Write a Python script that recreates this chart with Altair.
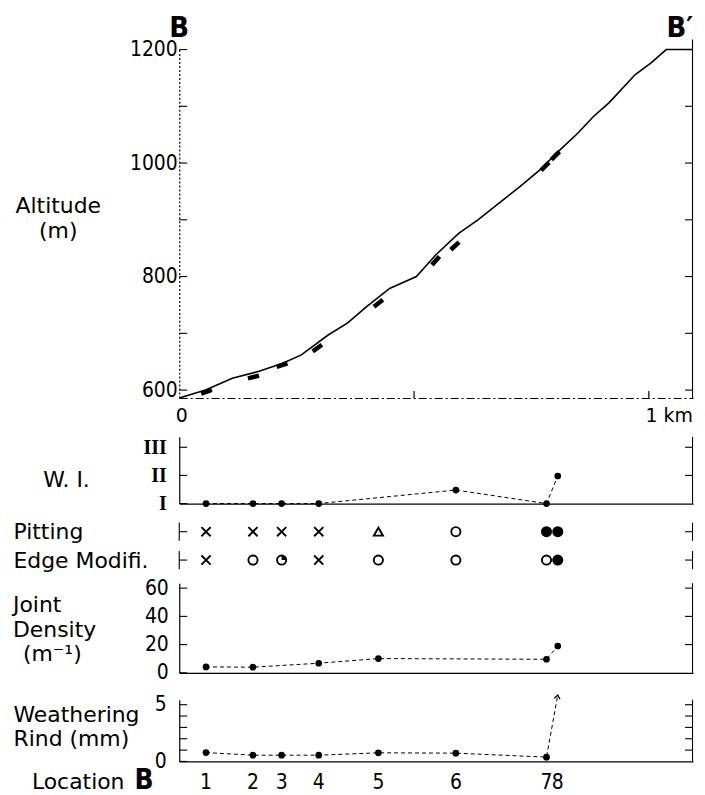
import altair as alt
import pandas as pd

# ---------------- data ----------------
profile_km = [0.000, 0.056, 0.113, 0.170, 0.219, 0.260, 0.317, 0.358, 0.399, 0.448, 0.505,
              0.546, 0.595, 0.636, 0.685, 0.726, 0.768, 0.808, 0.849, 0.882, 0.915, 0.971,
              1.004, 1.037, 1.094]
profile_alt = [586, 600, 621, 633, 647, 662, 697, 718, 747, 779, 800,
               838, 876, 900, 932, 959, 988, 1021, 1053, 1082, 1106, 1156,
               1176, 1200, 1200]

sample_km = [0.058, 0.158, 0.219, 0.294, 0.424, 0.546, 0.587, 0.779, 0.801]
sample_alt = [597, 623, 644, 674, 753, 828, 854, 994, 1013]
sample_angle = [340, 346, 341, 324, 322, 312, 317, 315, 315]

alt_major = [600, 800, 1000, 1200]
alt_minor = [600, 700, 800, 900, 1000, 1100, 1200]
km_labels = [0, 1]
km_ticks = [0.5, 1.0]

loc_names = ["1", "2", "3", "4", "5", "6", "7", "8"]
loc_km = [0.057, 0.157, 0.218, 0.297, 0.424, 0.589, 0.782, 0.806]

wi_index = [1.0, 1.0, 1.0, 1.0, None, 1.48, 1.0, 1.98]
wi_levels = [1, 2, 3]

pitting = ["x", "x", "x", "x", "tri", "open", "filled", "filled"]
edge = ["x", "open", "quarter", "x", "open", "open", "open", "filled"]
row_names = ["Pitting", "Edge Modifi."]
row_pos = [1.5, 0.5]

joint_density = [4.2, 4.0, None, 6.8, 10.1, None, 9.6, 19.0]
jd_ticks = [0, 20, 40, 60]

rind = [0.78, 0.55, 0.55, 0.55, 0.76, 0.73, 0.38, None]
rind_loc8_arrow = 5.85
rind_ticks = [0, 1, 2, 3, 4, 5]
rind_labels = [0, 5]

# ---------------- styling ----------------
SANS = "DejaVu Sans"
COND = "DejaVu Sans Condensed, DejaVu Sans"
SERIF = "Liberation Serif"
FS = 22
W = 516
H1, H2, H3, H4, H5 = 350, 67, 57, 90, 62
TL = 8  # inward tick length

xs = alt.Scale(domain=[0, 1.094], nice=False, zero=False)
ys1 = alt.Scale(domain=[586, 1200], nice=False, zero=False)
ys2 = alt.Scale(domain=[1, 3.37], nice=False, zero=False)
ys3 = alt.Scale(domain=[0, 2], nice=False, zero=False)
ys4 = alt.Scale(domain=[0, 63.5], nice=False, zero=False)
ys5 = alt.Scale(domain=[0, 5.44], nice=False, zero=False)

one = pd.DataFrame({"k": [0]})

plain_x = alt.Axis(labels=False, ticks=False, title=None, grid=False,
                   domainColor="black", domainWidth=1.2)

ax1_x = alt.Axis(
    values=km_labels, labelExpr="datum.value == 0 ? '0' : '1 km'",
    labelAlign="left", labelOffset=-4, labelPadding=9, ticks=False, tickSize=0,
    domainDash=[8, 3, 2, 3], domainColor="black", domainWidth=1.2,
    labelFont=SANS, labelFontSize=19, title=None, grid=False, labelFlush=False)
ax1_y = alt.Axis(
    values=alt_major, format="d", ticks=False, tickSize=0, labelPadding=2,
    domainDash=[2, 2], domainColor="black", domainWidth=1.2,
    labelFont=COND, labelFontSize=21, grid=False,
    title=["Altitude", "(m)"], titleAngle=0, titleAlign="center",
    titleBaseline="alphabetic", titleX=-122, titleY=164,
    titleFont=SANS, titleFontSize=FS, titleFontWeight="normal",
    titleLineHeight=25)
ax2_y = alt.Axis(
    values=wi_levels,
    labelExpr="datum.value == 1 ? 'I' : datum.value == 2 ? 'II' : 'III'",
    ticks=False, tickSize=0, labelPadding=13, domainColor="black", domainWidth=1.2,
    labelFont=SERIF, labelFontSize=20, labelFontWeight="bold", grid=False,
    title="W. I.", titleAngle=0, titleAlign="left", titleBaseline="alphabetic",
    titleX=-137, titleY=50, titleFont=SANS, titleFontSize=FS,
    titleFontWeight="normal")
ax3_y = alt.Axis(
    values=row_pos, labelExpr="datum.value > 1 ? 'Pitting' : 'Edge Modifi.'",
    labelAlign="left", labelBaseline="middle", labelPadding=167, ticks=False,
    tickSize=0, domain=False, labelFont=SANS, labelFontSize=FS, grid=False,
    title=None)
ax4_y = alt.Axis(
    values=jd_ticks, format="d", ticks=False, tickSize=0, labelPadding=11,
    domainColor="black", domainWidth=1.2, labelFont=COND, labelFontSize=21,
    grid=False, title=None)
ax5_y = alt.Axis(
    values=rind_labels, format="d", ticks=False, tickSize=0, labelPadding=13,
    domainColor="black", domainWidth=1.2, labelFont=COND, labelFontSize=21,
    grid=False, title=["Weathering", "Rind (mm)"], titleAngle=0,
    titleAlign="left", titleBaseline="alphabetic", titleX=-167, titleY=22,
    titleFont=SANS, titleFontSize=FS, titleFontWeight="normal",
    titleLineHeight=24)


def side_ticks(values, scale, axis, side):
    df = pd.DataFrame({"v": values})
    x0, x1 = (0, TL) if side == "left" else (W - TL, W)
    return alt.Chart(df).mark_rule(color="black", strokeWidth=1.1).encode(
        y=alt.Y("v:Q", scale=scale, axis=axis), x=alt.value(x0), x2=alt.value(x1))


def right_border(height, top=0):
    return alt.Chart(one).mark_rule(color="black", strokeWidth=1.1).encode(
        x=alt.value(W - 0.5), y=alt.value(top), y2=alt.value(height))


def label(text, x, y, size=FS, font=SANS, weight="normal", align="left"):
    return alt.Chart(one).mark_text(text=text, font=font, fontSize=size,
                                    fontWeight=weight, align=align,
                                    baseline="alphabetic", color="black").encode(
        x=alt.value(x), y=alt.value(y))


def valid(xs_, vs_):
    return pd.DataFrame({"km": [a for a, b in zip(xs_, vs_) if b is not None],
                         "v": [b for b in vs_ if b is not None]})


# ---------------- panel 1 : altitude profile ----------------
prof = pd.DataFrame({"km": profile_km, "alt": profile_alt})
samp = pd.DataFrame({"km": sample_km, "alt": sample_alt, "ang": sample_angle})

p1_line = alt.Chart(prof).mark_line(color="black", strokeWidth=1.6).encode(
    x=alt.X("km:Q", scale=xs, axis=ax1_x),
    y=alt.Y("alt:Q", scale=ys1, axis=ax1_y),
)
p1_samples = alt.Chart(samp).mark_point(
    shape="M-1,-0.4L1,-0.4L1,0.4L-1,0.4Z", filled=True, color="black",
    size=130, opacity=1).encode(
    x=alt.X("km:Q", scale=xs, axis=ax1_x), y=alt.Y("alt:Q", scale=ys1, axis=ax1_y),
    angle=alt.Angle("ang:Q", scale=None))
p1_bottom_ticks = alt.Chart(pd.DataFrame({"km": km_ticks})).mark_rule(
    color="black", strokeWidth=1.2).encode(
    x=alt.X("km:Q", scale=xs, axis=ax1_x), y=alt.value(H1), y2=alt.value(H1 - 7))

p1 = alt.layer(
    p1_line, p1_samples,
    side_ticks(alt_minor, ys1, ax1_y, "left"), side_ticks(alt_minor, ys1, ax1_y, "right"),
    right_border(H1, -10), p1_bottom_ticks,
    label("B", 0, -13, size=29, font=COND, weight="bold", align="center"),
    label("B\u2032", W, -13, size=29, font=COND, weight="bold", align="right"),
).properties(width=W, height=H1)

# ---------------- panel 2 : weathering index ----------------
wi_df = valid(loc_km, wi_index)
p2_line = alt.Chart(wi_df).mark_line(color="black", strokeWidth=1, strokeDash=[4, 3]).encode(
    x=alt.X("km:Q", scale=xs, axis=plain_x),
    y=alt.Y("v:Q", scale=ys2, axis=ax2_y))
p2_pts = alt.Chart(wi_df).mark_circle(color="black", size=45, opacity=1).encode(
    x=alt.X("km:Q", scale=xs, axis=plain_x), y=alt.Y("v:Q", scale=ys2, axis=ax2_y))
p2 = alt.layer(
    p2_line, p2_pts, side_ticks(wi_levels, ys2, ax2_y, "left"),
    side_ticks([2, 3], ys2, ax2_y, "right"), right_border(H2),
).properties(width=W, height=H2)

# ---------------- panel 3 : pitting / edge modification ----------------
sym_rows = []
for i, k in enumerate(loc_km):
    sym_rows.append({"km": k, "row": row_pos[0], "sym": pitting[i]})
    sym_rows.append({"km": k, "row": row_pos[1], "sym": edge[i]})
sym_df = pd.DataFrame(sym_rows)
sym_domain = ["x", "tri", "open", "quarter", "filled"]
p3_sym = alt.Chart(sym_df).mark_point(stroke="black", strokeWidth=1.9, size=85, opacity=1).encode(
    x=alt.X("km:Q", scale=xs, axis=None),
    y=alt.Y("row:Q", scale=ys3, axis=ax3_y),
    shape=alt.Shape("sym:N", scale=alt.Scale(
        domain=sym_domain,
        range=["M-1,-1L1,1M-1,1L1,-1", "triangle-up", "circle", "circle", "circle"]),
        legend=None),
    fill=alt.Fill("sym:N", scale=alt.Scale(
        domain=sym_domain,
        range=["transparent", "transparent", "transparent", "transparent", "black"]),
        legend=None),
)
p3_wedge = alt.Chart(sym_df).transform_filter(alt.datum.sym == "quarter").mark_point(
    shape="M0,0L0,-1A1,1,0,0,1,1,0Z", filled=True, color="black", size=85, opacity=1).encode(
    x=alt.X("km:Q", scale=xs, axis=None), y=alt.Y("row:Q", scale=ys3, axis=ax3_y))
bars = pd.DataFrame({"lo": [r - 0.32 for r in row_pos], "hi": [r + 0.32 for r in row_pos],
                     "v": row_pos})
p3_lbar = alt.Chart(bars).mark_rule(color="black", strokeWidth=1.1).encode(
    x=alt.value(0), y=alt.Y("lo:Q", scale=ys3, axis=ax3_y), y2="hi:Q")
p3_rbar = alt.Chart(bars).mark_rule(color="black", strokeWidth=1.1).encode(
    x=alt.value(W - 0.5), y=alt.Y("lo:Q", scale=ys3, axis=ax3_y), y2="hi:Q")
p3 = alt.layer(
    p3_sym, p3_wedge, p3_lbar, p3_rbar,
    side_ticks(row_pos, ys3, ax3_y, "left"), side_ticks(row_pos, ys3, ax3_y, "right"),
).properties(width=W, height=H3)

# ---------------- panel 4 : joint density ----------------
jd_df = valid(loc_km, joint_density)
p4_line = alt.Chart(jd_df).mark_line(color="black", strokeWidth=1, strokeDash=[4, 3]).encode(
    x=alt.X("km:Q", scale=xs, axis=plain_x),
    y=alt.Y("v:Q", scale=ys4, axis=ax4_y))
p4_pts = alt.Chart(jd_df).mark_circle(color="black", size=45, opacity=1).encode(
    x=alt.X("km:Q", scale=xs, axis=plain_x), y=alt.Y("v:Q", scale=ys4, axis=ax4_y))
p4 = alt.layer(
    p4_line, p4_pts, side_ticks(jd_ticks, ys4, ax4_y, "left"),
    side_ticks(jd_ticks[1:], ys4, ax4_y, "right"), right_border(H4),
    label("Joint", -167, 29), label("Density", -167, 54),
    label("(m\u207b\u00b9)", -157, 78),
).properties(width=W, height=H4)

# ---------------- panel 5 : weathering rind ----------------
rind_pts = valid(loc_km, rind)
rind_path = pd.DataFrame({"km": list(rind_pts["km"]) + [loc_km[7]],
                          "v": list(rind_pts["v"]) + [rind_loc8_arrow]})
arrow_df = pd.DataFrame({"km": [loc_km[7]], "v": [rind_loc8_arrow], "ang": [10]})
loc_df = pd.DataFrame({"km": loc_km, "name": loc_names})

p5_line = alt.Chart(rind_path).mark_line(color="black", strokeWidth=1, strokeDash=[4, 3]).encode(
    x=alt.X("km:Q", scale=xs, axis=plain_x),
    y=alt.Y("v:Q", scale=ys5, axis=ax5_y))
p5_pts = alt.Chart(rind_pts).mark_circle(color="black", size=45, opacity=1).encode(
    x=alt.X("km:Q", scale=xs, axis=plain_x), y=alt.Y("v:Q", scale=ys5, axis=ax5_y))
p5_arrow = alt.Chart(arrow_df).mark_point(
    shape="M-0.7,0.9L0,0L0.7,0.9", filled=False, stroke="black", strokeWidth=1.3,
    size=70, opacity=1).encode(
    x=alt.X("km:Q", scale=xs, axis=plain_x), y=alt.Y("v:Q", scale=ys5, axis=ax5_y),
    angle=alt.Angle("ang:Q", scale=None))
p5_locs = alt.Chart(loc_df).mark_text(font=COND, fontSize=21, align="center",
                                      baseline="alphabetic", color="black").encode(
    x=alt.X("km:Q", scale=xs, axis=plain_x), y=alt.value(H5 + 28), text="name:N")
p5 = alt.layer(
    p5_line, p5_pts, p5_arrow, p5_locs,
    label("Location", -148, H5 + 28),
    label("B", -45, H5 + 28, size=28, font=COND, weight="bold"),
    side_ticks(rind_ticks, ys5, ax5_y, "left"), side_ticks(rind_ticks[1:], ys5, ax5_y, "right"),
    right_border(H5),
).properties(width=W, height=H5)

# ---------------- assemble ----------------
c45 = alt.vconcat(p4, p5, spacing=27, bounds="flush").resolve_scale(x="independent", y="independent")
c345 = alt.vconcat(p3, c45, spacing=9, bounds="flush").resolve_scale(x="independent", y="independent")
c2345 = alt.vconcat(p2, c345, spacing=14, bounds="flush").resolve_scale(x="independent", y="independent")
chart = alt.vconcat(p1, c2345, spacing=39, bounds="flush").resolve_scale(
    x="independent", y="independent"
).properties(
    padding={"left": 5, "top": 4, "right": 0, "bottom": 0}
).configure_view(stroke=None).configure_axis(
    labelColor="black", titleColor="black", domainColor="black"
)

chart.save("out.html", embed_options={"renderer": "svg", "actions": False})
